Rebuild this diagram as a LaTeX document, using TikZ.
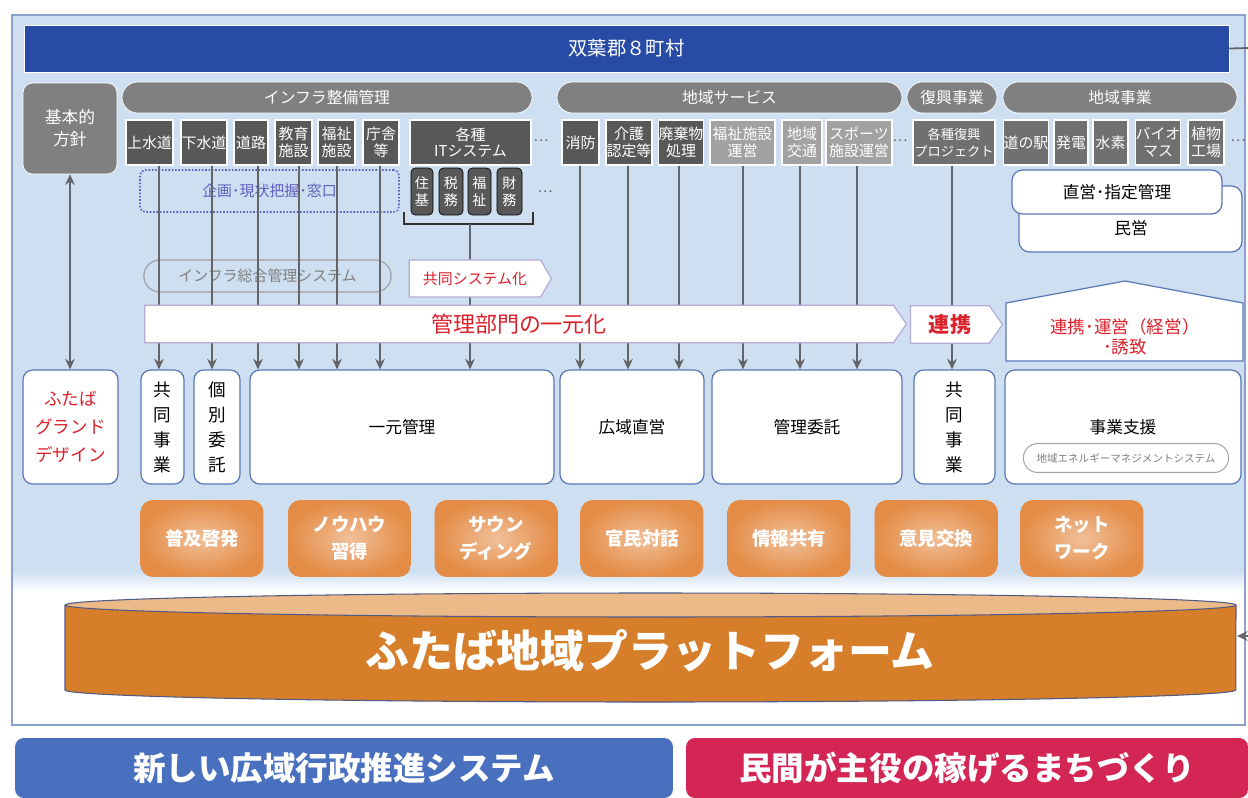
\documentclass[tikz,border=0pt]{standalone}
\usepackage{fontspec}
\setmainfont{Noto Sans CJK JP}
\usetikzlibrary{shapes.misc,shapes.symbols,arrows.meta}
\definecolor{bgblue}{RGB}{205,223,241}
\definecolor{framecol}{RGB}{140,160,205}
\definecolor{barblue}{RGB}{40,76,165}
\definecolor{hdrgray}{RGB}{128,128,130}
\definecolor{dkgray}{RGB}{88,88,88}
\definecolor{mdgray}{RGB}{112,112,112}
\definecolor{ltgray}{RGB}{162,162,162}
\definecolor{boxline}{RGB}{90,120,180}
\definecolor{bandline}{RGB}{180,172,215}
\definecolor{redtxt}{RGB}{220,32,42}
\definecolor{arrgray}{RGB}{100,100,105}
\definecolor{dotblue}{RGB}{95,95,190}
\definecolor{orng}{RGB}{228,140,70}
\definecolor{cylbody}{RGB}{214,126,42}
\definecolor{cyltop}{RGB}{236,186,136}
\definecolor{cylline}{RGB}{80,90,135}
\definecolor{leftbar}{RGB}{72,112,190}
\definecolor{rightbar}{RGB}{212,38,85}

\begin{document}
\begin{tikzpicture}[x=0.02cm,y=-0.02cm,
    hdr/.style={rounded rectangle,fill=hdrgray,draw=white,text=white,
      font=\fontsize{9}{10}\selectfont,minimum height=0.62cm,inner sep=0pt},
    unit/.style={fill=dkgray,draw=white,line width=0.6pt,text=white,align=center,
      font=\fontsize{8.5}{9.5}\selectfont,inner sep=0pt,minimum height=0.9cm},
    sub/.style={fill=dkgray,draw=black,rounded corners=2.5pt,text=white,align=center,
      font=\fontsize{8}{9.5}\selectfont,inner sep=0pt,minimum height=0.94cm},
    wbox/.style={fill=white,draw=boxline,line width=0.7pt,rounded corners=5.5pt,
      align=center,font=\fontsize{9.5}{11}\selectfont,inner sep=0pt,minimum height=2.28cm},
    vbox/.style={wbox,font=\fontsize{10}{14.2}\selectfont},
    obox/.style={rounded corners=7pt,inner color=orng!55!white,outer color=orng,
      text=white,align=center,font=\bfseries\fontsize{10.5}{15.3}\selectfont,
      minimum width=2.46cm,minimum height=1.54cm},
    band/.style={signal,signal to=east,fill=white,draw=bandline,line width=0.7pt,
      text=redtxt,inner sep=0pt,minimum height=0.75cm},
    arr/.style={draw=arrgray,line width=1.1pt,-{Stealth[length=6pt,width=5.5pt]}},
    arrs/.style={arr,{Stealth[length=6pt,width=5.5pt]}-{Stealth[length=6pt,width=5.5pt]}},
    dots/.style={text=arrgray,font=\fontsize{8}{9}\selectfont,inner sep=0pt}]

  \clip (0,0) rectangle (1248,798);
  \fill[white] (0,0) rectangle (1248,798);
  \fill[bgblue] (12,15) rectangle (1245,570);
  \shade[top color=bgblue,bottom color=white] (12,570) rectangle (1245,592);
  \draw[framecol,line width=0.7pt] (12,15) rectangle (1245,725);

  \node[fill=barblue,draw=white,text=white,font=\fontsize{11}{12}\selectfont,
    minimum width=24.1cm,minimum height=0.94cm] (gun) at (626.5,48.5) {双葉郡８町村};
  \coordinate (gunr) at (1248,48);
  \draw[arrgray,line width=1pt] (gun.east) -- (gunr);

  \node[fill=hdrgray,draw=white,rounded corners=5.5pt,text=white,align=center,
    font=\fontsize{9.5}{12.5}\selectfont,minimum width=1.88cm,minimum height=1.82cm]
    (kihon) at (70,128.5) {基本的\\方針};
  \node[hdr,minimum width=8.2cm] (h1) at (327,97.5) {インフラ整備管理};
  \node[hdr,minimum width=6.9cm] (h2) at (729.5,97.5) {地域サービス};
  \node[hdr,minimum width=1.8cm] (h3) at (952,97.5) {復興事業};
  \node[hdr,minimum width=4.68cm] (h4) at (1120,97.5) {地域事業};

  \foreach \n/\xa/\xb/\col/\lab in {j1/126/173/dkgray/上水道, j2/181/227/dkgray/下水道,
      j3/234/268/dkgray/道路, j4/275/312/dkgray/{教育\\施設}, j5/318/355/dkgray/{福祉\\施設},
      j6/363/399/dkgray/{庁舎\\等}, it/410/531/dkgray/{各種\\ITシステム},
      s1/562/599/dkgray/消防, s2/606/652/dkgray/{介護\\認定等}, s3/659/703/dkgray/{廃棄物\\処理},
      s4/710/775/ltgray/{福祉施設\\運営}, s5/782/822/ltgray/{地域\\交通},
      s6/826/892/ltgray/{スポーツ\\施設運営}, c1/1004/1048/mdgray/道の駅,
      c2/1054/1088/mdgray/発電, c3/1093/1128/mdgray/水素, c4/1136/1180/mdgray/{バイオ\\マス},
      c5/1188/1224/mdgray/{植物\\工場}}
    \node[unit,fill=\col,minimum width={(\xb-\xa)*0.02cm}] (\n) at ({(\xa+\xb)/2},142.5) {\lab};
  \node[unit,fill=mdgray,minimum width=1.64cm,font=\fontsize{7.5}{9.5}\selectfont]
    (f1) at (954,142.5) {各種復興\\プロジェクト};

  \foreach \n/\xa/\xb/\lab in {k1/411/433/{住\\基}, k2/439/463/{税\\務},
      k3/468/491/{福\\祉}, k4/497/522/{財\\務}}
    \node[sub,minimum width={(\xb-\xa)*0.02cm}] (\n) at ({(\xa+\xb)/2},191.5) {\lab};
  \draw[black!80,line width=0.8pt] (404,212) -- (404,224) -- (533,224) -- (533,212);
  \coordinate (brk) at (470,224);

  \node[dots] (d1) at (541,141) {…};
  \node[dots] (d2) at (545,192) {…};
  \node[dots] (d3) at (900,141) {…};
  \node[dots] (d4) at (1238,141) {…};

  \node[draw=dotblue,densely dotted,line width=0.9pt,rounded corners=3pt,text=dotblue,
    font=\fontsize{8.5}{9}\selectfont,minimum width=5.18cm,minimum height=0.84cm]
    (kikaku) at (269.5,191) {企画･現状把握･窓口};
  \node[rounded rectangle,draw=gray!75,line width=0.7pt,text=gray,
    font=\fontsize{8.5}{9}\selectfont,minimum width=5.18cm,minimum height=0.64cm]
    (infra) at (267.5,276) {インフラ総合管理システム};

  \node[fill=white,draw=boxline,line width=0.7pt,rounded corners=6pt,
    minimum width=4.46cm,minimum height=1.32cm] (minei) at (1130.5,219) {};
  \node[font=\fontsize{9.5}{11}\selectfont] (mineit) at (1131,228) {民営};
  \node[fill=white,draw=boxline,line width=0.7pt,rounded corners=6pt,
    font=\fontsize{9.5}{11}\selectfont,minimum width=4.2cm,minimum height=0.88cm]
    (choku) at (1117,192) {直営･指定管理};

  \filldraw[fill=white,draw=boxline,line width=0.7pt]
    (1006,303) -- (1125,281) -- (1243,303) -- (1243,361) -- (1006,361) -- cycle;
  \node[text=redtxt,align=center,font=\fontsize{10}{11.5}\selectfont]
    (yuchi) at (1125,337) {連携･運営（経営）\\･誘致};

  \node[wbox,text=redtxt,font=\fontsize{10}{16}\selectfont,minimum width=1.9cm]
    (b0) at (70.5,427) {ふたば\\グランド\\デザイン};
  \foreach \n/\xa/\xb/\lab in {b1/141/184/{共\\同\\事\\業}, b2/194/240/{個\\別\\委\\託},
      b6/914/995/{共\\同\\事\\業}}
    \node[vbox,minimum width={(\xb-\xa)*0.02cm}] (\n) at ({(\xa+\xb)/2},427) {\lab};
  \foreach \n/\xa/\xb/\lab in {b3/250/554/一元管理, b4/560/704/広域直営,
      b5/712/902/管理委託, b7/1005/1241/事業支援}
    \node[wbox,minimum width={(\xb-\xa)*0.02cm}] (\n) at ({(\xa+\xb)/2},427) {\lab};
  \node[rounded rectangle,draw=gray!70,line width=0.6pt,text=gray,
    font=\fontsize{6}{7}\selectfont,minimum width=4.34cm,minimum height=0.58cm]
    (ems) at (1126,458) {地域エネルギーマネジメントシステム};

  \foreach \n/\x/\lab in {o1/202/普及啓発, o2/349.5/{ノウハウ\\習得}, o3/496/{サウン\\ディング},
      o4/642/官民対話, o5/789/情報共有, o6/936/意見交換, o7/1082/{ネット\\ワーク}}
    \node[obox] (\n) at (\x,538.5) {\lab};

  \fill[cylbody] (65,605) -- (65,690)
    arc[start angle=180,end angle=360,x radius=11.71cm,y radius=0.24cm] -- (1236,605) -- cycle;
  \draw[cylline,line width=0.6pt] (65,605) -- (65,690)
    arc[start angle=180,end angle=360,x radius=11.71cm,y radius=0.24cm] -- (1236,605);
  \filldraw[fill=cyltop,draw=cylline,line width=0.6pt]
    (650.5,605) ellipse [x radius=11.71cm,y radius=0.24cm];
  \node[text=white,font=\bfseries\fontsize{25}{30}\selectfont] (pf) at (650,651)
    {ふたば地域プラットフォーム};
  \coordinate (cylr) at (1237,636);
  \coordinate (cyle) at (1252,636);
  \draw[arr] (cyle) -- (cylr);

  \draw[arrs] (kihon) -- (kihon |- b0.north);
  \foreach \src/\dst/\x in {j1/b1/159, j2/b2/212, j3/b3/258, j4/b3/299, j5/b3/337,
      j6/b3/380, s1/b4/580, s2/b4/628, s3/b4/679, s4/b5/743, s5/b5/800, s6/b5/857, f1/b6/952}
    \draw[arr] (\x,0 |- \src.south) -- (\x,0 |- \dst.north);
  \draw[arr] (brk) -- (brk |- b3.north);

  \node[band,signal pointer angle=120,minimum width=2.84cm,minimum height=0.74cm,
    font=\fontsize{8.5}{10}\selectfont] (kyodo) at (475,278.5) {共同システム化};
  \node[band,signal pointer angle=110,minimum width=15.24cm,
    font=\fontsize{12.5}{14}\selectfont] (ichigen) at (519,324) {管理部門の一元化};
  \node[band,signal pointer angle=110,minimum width=1.84cm,
    font=\bfseries\fontsize{12}{14}\selectfont] (renkei) at (950,324.5) {連携};

  \node[fill=leftbar,rounded corners=5pt,text=white,font=\bfseries\fontsize{18.5}{20}\selectfont,
    minimum width=13.16cm,minimum height=1.2cm] (gyosei) at (344,768) {新しい広域行政推進システム};
  \node[fill=rightbar,rounded corners=5pt,text=white,font=\bfseries\fontsize{18.5}{20}\selectfont,
    minimum width=11.24cm,minimum height=1.2cm] (machi) at (967,768) {民間が主役の稼げるまちづくり};
\end{tikzpicture}
\end{document}
